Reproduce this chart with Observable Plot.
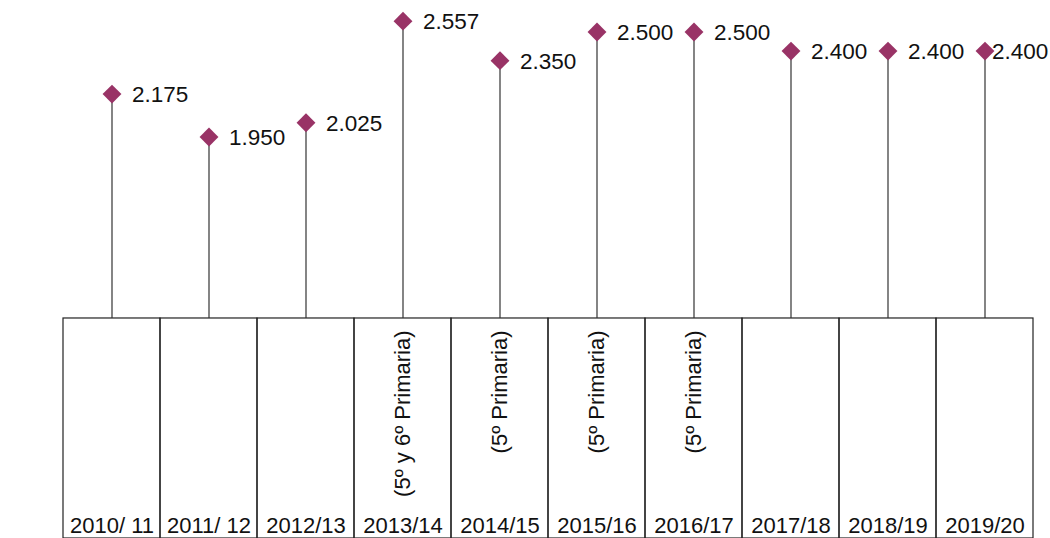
<!DOCTYPE html>
<html>
<head>
<meta charset="utf-8">
<script src="https://cdn.jsdelivr.net/npm/d3@7"></script>
<script src="https://cdn.jsdelivr.net/npm/@observablehq/plot@0.6"></script>
<style>
  html, body { margin: 0; padding: 0; background: #fff; }
  #chart svg { display: block; }
</style>
</head>
<body>
<div id="chart"></div>
<script>
const categories = ["2010/ 11", "2011/ 12", "2012/13", "2013/14", "2014/15", "2015/16", "2016/17", "2017/18", "2018/19", "2019/20"];
const values = [2175, 1950, 2025, 2557, 2350, 2500, 2500, 2400, 2400, 2400];
const notes = ["", "", "", "(5º y 6º Primaria)", "(5º Primaria)", "(5º Primaria)", "(5º Primaria)", "", "", ""];

const baseValue = 1000;
const tableBottom = -152;
const topValue = 2665;

const fmt = d3.formatLocale({decimal: ",", thousands: ".", grouping: [3]}).format(",");

const data = categories.map((c, i) => ({cat: c, value: values[i], note: notes[i], last: i === categories.length - 1}));

const font = "Liberation Sans, Arial, sans-serif";
const purple = "#993366";

const chart = Plot.plot({
  width: 1050,
  height: 538,
  marginTop: 0, marginBottom: 0, marginLeft: 0, marginRight: 0,
  style: {fontFamily: font, background: "#fff"},
  x: {type: "band", domain: categories, range: [63, 1033], padding: 0, axis: null},
  y: {domain: [tableBottom, topValue], range: [538, 0], axis: null},
  marks: [
    Plot.barY(data, {x: "cat", y1: tableBottom, y2: baseValue, fill: "none", stroke: "#222", strokeWidth: 1.2}),
    Plot.ruleX(data, {x: "cat", y1: baseValue, y2: "value", stroke: "#333", strokeWidth: 1.2}),
    Plot.dot(data, {x: "cat", y: "value", symbol: "diamond2", r: 8.5, fill: purple, stroke: "none"}),
    Plot.text(data.filter(d => !d.last), {x: "cat", y: "value", text: d => fmt(d.value), dx: 20, dy: 1, textAnchor: "start", fontSize: 22.5, fill: "#111"}),
    Plot.text(data.filter(d => d.last), {x: "cat", y: "value", text: d => fmt(d.value), dx: 7, dy: 1, textAnchor: "start", fontSize: 22.5, fill: "#111"}),
    Plot.text(data, {x: "cat", y: baseValue, text: "note", rotate: -90, textAnchor: "end", dy: 12, fontSize: 22, fill: "#111"}),
    Plot.text(data, {x: "cat", y: tableBottom, text: "cat", lineAnchor: "bottom", dy: -6, fontSize: 22, fill: "#111"})
  ]
});
document.getElementById("chart").appendChild(chart);
</script>
</body>
</html>
